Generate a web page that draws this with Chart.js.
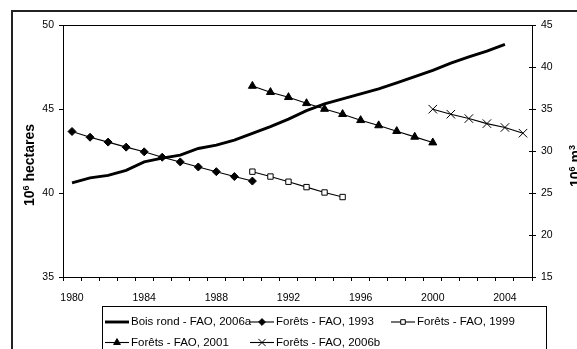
<!DOCTYPE html>
<html>
<head>
<meta charset="utf-8">
<script src="https://cdn.jsdelivr.net/npm/chart.js"></script>
<style>
  html, body { margin: 0; padding: 0; background: #fff; }
  #wrap { width: 577px; height: 349px; }
</style>
</head>
<body>
<div id="wrap"><canvas id="chart" width="577" height="349"></canvas></div>
<script>
// ── Data ──────────────────────────────────────────────────────────────────
const years = ['1980','1981','1982','1983','1984','1985','1986','1987','1988','1989',
               '1990','1991','1992','1993','1994','1995','1996','1997','1998','1999',
               '2000','2001','2002','2003','2004','2005'];

// 10^6 m3, right axis, from 1980
const boisRond = [26.2, 26.8, 27.1, 27.7, 28.7, 29.15, 29.5, 30.3, 30.7, 31.3,
                  32.1, 32.9, 33.8, 34.8, 35.6, 36.2, 36.8, 37.4, 38.1, 38.85,
                  39.6, 40.45, 41.2, 41.9, 42.7];

// 10^6 ha, left axis
const forets1993Start = '1980';
const forets1993 = [43.66, 43.32, 43.03, 42.73, 42.45, 42.13, 41.85, 41.55, 41.27, 40.98, 40.71];
const forets1999Start = '1990';
const forets1999 = [41.27, 40.98, 40.67, 40.35, 40.03, 39.76];
const forets2001Start = '1990';
const forets2001 = [46.37, 46.0, 45.7, 45.34, 45.0, 44.69, 44.33, 44.02, 43.68, 43.34, 43.0];
const forets2006bStart = '2000';
const forets2006b = [44.99, 44.69, 44.43, 44.13, 43.9, 43.56];

const leftTicks  = [35, 40, 45, 50];
const rightTicks = [15, 20, 25, 30, 35, 40, 45];

const FONT = "'Liberation Sans', Arial, sans-serif";

// place a partial series on the full category list
function pad(start, values) {
  const out = years.map(() => null);
  const i0 = years.indexOf(start);
  values.forEach((v, i) => { out[i0 + i] = v; });
  return out;
}

const datasets = [
  { label: 'Bois rond - FAO, 2006a', data: pad('1980', boisRond), yAxisID: 'y2',
    borderColor: '#000', borderWidth: 2.9, pointRadius: 0 },
  { label: 'Forêts - FAO, 1993', data: pad(forets1993Start, forets1993), yAxisID: 'y',
    borderColor: '#000', borderWidth: 1.1, pointStyle: 'rectRot', pointRadius: 4,
    pointBackgroundColor: '#000', pointBorderColor: '#000', pointBorderWidth: 1 },
  { label: 'Forêts - FAO, 1999', data: pad(forets1999Start, forets1999), yAxisID: 'y',
    borderColor: '#000', borderWidth: 1.1, pointStyle: 'rect', pointRadius: 3.8,
    pointBackgroundColor: '#fff', pointBorderColor: '#000', pointBorderWidth: 1 },
  { label: 'Forêts - FAO, 2001', data: pad(forets2001Start, forets2001), yAxisID: 'y',
    borderColor: '#000', borderWidth: 1.1, pointStyle: 'triangle', pointRadius: 4.6,
    pointBackgroundColor: '#000', pointBorderColor: '#000', pointBorderWidth: 1 },
  { label: 'Forêts - FAO, 2006b', data: pad(forets2006bStart, forets2006b), yAxisID: 'y',
    borderColor: '#000', borderWidth: 1.1, pointStyle: 'crossRot', pointRadius: 6,
    pointBackgroundColor: '#000', pointBorderColor: '#000', pointBorderWidth: 1 },
];

// ── Frame, titles and legend ──────────────────────────────────────────────
const decorations = {
  id: 'decorations',
  afterDraw(chart) {
    const ctx = chart.ctx;
    const a = chart.chartArea;
    ctx.save();

    // outer frame
    ctx.strokeStyle = '#222';
    ctx.lineWidth = 2;
    ctx.strokeRect(12, 11, 700, 500);

    // plot top border
    ctx.strokeStyle = '#000';
    ctx.lineWidth = 1;
    ctx.beginPath();
    ctx.moveTo(a.left, Math.round(a.top) + 0.5);
    ctx.lineTo(a.right, Math.round(a.top) + 0.5);
    ctx.stroke();

    // right axis ticks cross the axis line
    const y2 = chart.scales.y2;
    ctx.beginPath();
    rightTicks.forEach(v => {
      const py = Math.round(y2.getPixelForValue(v)) + 0.5;
      ctx.moveTo(a.right - 3, py);
      ctx.lineTo(a.right, py);
    });
    ctx.stroke();

    // axis titles (rotated, with superscripts)
    drawTitle(ctx, 34, 165, [['10', 14, 0], ['6', 9, 5], [' hectares', 14, 0]]);
    drawTitle(ctx, 580, 166, [['10', 14, 0], ['6', 9, 5], [' m', 14, 0], ['3', 9, 5]]);

    // legend box
    ctx.strokeStyle = '#000';
    ctx.lineWidth = 1;
    ctx.strokeRect(102.5, 306.5, 444, 60);

    const cols = [131, 276, 417];
    const rows = [322, 342.5];
    ctx.font = `11.5px ${FONT}`;
    ctx.textBaseline = 'middle';
    ctx.fillStyle = '#000';
    chart.data.datasets.forEach((ds, i) => {
      const tx = cols[i % 3], ty = rows[Math.floor(i / 3)];
      const x0 = tx - 26, x1 = tx - 2;
      ctx.strokeStyle = '#000';
      ctx.lineWidth = ds.borderWidth;
      ctx.beginPath();
      ctx.moveTo(x0, ty);
      ctx.lineTo(x1, ty);
      ctx.stroke();
      if (ds.pointRadius > 0) {
        ctx.fillStyle = ds.pointBackgroundColor;
        ctx.strokeStyle = ds.pointBorderColor;
        ctx.lineWidth = ds.pointBorderWidth;
        Chart.helpers.drawPoint(ctx, {
          pointStyle: ds.pointStyle, radius: ds.pointRadius * 0.85,
          borderWidth: ds.pointBorderWidth, rotation: 0
        }, (x0 + x1) / 2, ty);
      }
      ctx.fillStyle = '#000';
      ctx.fillText(ds.label, tx, ty);
    });
    ctx.restore();
  }
};

function drawTitle(ctx, x, y, parts) {
  ctx.save();
  ctx.translate(x, y);
  ctx.rotate(-Math.PI / 2);
  ctx.fillStyle = '#000';
  ctx.textBaseline = 'alphabetic';
  let total = 0;
  parts.forEach(([t, s]) => { ctx.font = `bold ${s}px ${FONT}`; total += ctx.measureText(t).width; });
  let cx = -total / 2;
  parts.forEach(([t, s, rise]) => {
    ctx.font = `bold ${s}px ${FONT}`;
    ctx.fillText(t, cx, -rise);
    cx += ctx.measureText(t).width;
  });
  ctx.restore();
}

// ── Chart ─────────────────────────────────────────────────────────────────
const tickFont = { family: FONT, size: 10.5 };

new Chart(document.getElementById('chart').getContext('2d'), {
  type: 'line',
  data: { labels: years, datasets },
  plugins: [decorations],
  options: {
    responsive: false,
    animation: false,
    devicePixelRatio: 1,
    spanGaps: false,
    layout: { padding: { top: 25, left: 0, right: 0, bottom: 0 } },
    plugins: { legend: { display: false }, tooltip: { enabled: false } },
    scales: {
      x: {
        type: 'category',
        offset: true,
        grid: { offset: true, drawOnChartArea: false, tickLength: 4, color: '#000' },
        border: { color: '#000', width: 1 },
        ticks: {
          autoSkip: false, maxRotation: 0, padding: 11, color: '#000', font: tickFont,
          callback: (v, i) => (i % 4 === 0 ? years[i] : '')
        },
        afterFit: s => { s.height = 72; }
      },
      y: {
        position: 'left', min: 35, max: 50,
        afterBuildTicks: s => { s.ticks = leftTicks.map(v => ({ value: v })); },
        grid: { drawOnChartArea: false, tickLength: 4, color: '#000' },
        border: { color: '#000', width: 1 },
        ticks: { padding: 5, color: '#000', font: tickFont },
        afterFit: s => { s.width = 63; }
      },
      y2: {
        position: 'right', min: 15, max: 45,
        afterBuildTicks: s => { s.ticks = rightTicks.map(v => ({ value: v })); },
        grid: { drawOnChartArea: false, tickLength: 4, color: '#000' },
        border: { color: '#000', width: 1 },
        ticks: { padding: 5, color: '#000', font: tickFont },
        afterFit: s => { s.width = 45; }
      }
    }
  }
});
</script>
</body>
</html>
